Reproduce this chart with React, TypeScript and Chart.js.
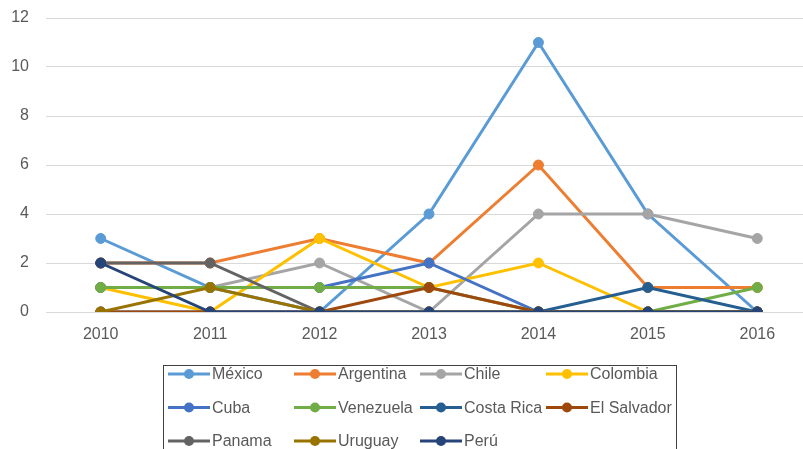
import React, { useEffect, useRef } from "react";
import { Chart, registerables } from "chart.js";

Chart.register(...registerables);

const years = ["2010", "2011", "2012", "2013", "2014", "2015", "2016"];
const seriesNames = ["México", "Argentina", "Chile", "Colombia", "Cuba", "Venezuela", "Costa Rica", "El Salvador", "Panama", "Uruguay", "Perú"];
const seriesColors = ["#5B9BD5", "#ED7D31", "#A5A5A5", "#FFC000", "#4472C4", "#70AD47", "#255E91", "#9E480E", "#636363", "#997300", "#264478"];

const mexico = [3, 1, 0, 4, 11, 4, 0];
const argentina = [2, 2, 3, 2, 6, 1, 1];
const chile = [1, 1, 2, 0, 4, 4, 3];
const colombia = [1, 0, 3, 1, 2, 0, 0];
const cuba = [1, 1, 1, 2, 0, 0, 0];
const venezuela = [1, 1, 1, 1, 0, 0, 1];
const costaRica = [0, 0, 0, 0, 0, 1, 0];
const elSalvador = [0, 0, 0, 1, 0, 0, 0];
const panama = [2, 2, 0, 0, 0, 0, 0];
const uruguay = [0, 1, 0, 0, 0, 0, 0];
const peru = [2, 0, 0, 0, 0, 0, 0];

const seriesValues = [mexico, argentina, chile, colombia, cuba, venezuela, costaRica, elSalvador, panama, uruguay, peru];

const yTicksMin = 0;
const yTicksMax = 12;
const yTicksStep = 2;

const FONT = '"Liberation Sans", Arial, Helvetica, sans-serif';
const TEXT = "#595959";

const gridLegend = {
  id: "gridLegend",
  afterDraw(chart: any) {
    const ctx = chart.ctx;
    ctx.save();
    ctx.strokeStyle = "#404040";
    ctx.lineWidth = 1;
    ctx.strokeRect(163.5, 365.5, 513, 130);
    ctx.font = `16px ${FONT}`;
    ctx.textBaseline = "middle";
    ctx.textAlign = "left";
    seriesNames.forEach((name, i) => {
      const col = i % 4;
      const row = Math.floor(i / 4);
      const x0 = 168 + col * 126;
      const y = 374 + row * 33.5;
      ctx.strokeStyle = seriesColors[i];
      ctx.lineWidth = 3;
      ctx.beginPath();
      ctx.moveTo(x0, y);
      ctx.lineTo(x0 + 42, y);
      ctx.stroke();
      ctx.fillStyle = seriesColors[i];
      ctx.beginPath();
      ctx.arc(x0 + 21, y, 5, 0, Math.PI * 2);
      ctx.fill();
      ctx.fillStyle = TEXT;
      ctx.fillText(name, x0 + 44, y + 1);
    });
    ctx.restore();
  },
};

export default function App() {
  const ref = useRef<HTMLCanvasElement | null>(null);
  useEffect(() => {
    if (!ref.current) return;
    const chart = new Chart(ref.current, {
      type: "line",
      data: {
        labels: years,
        datasets: seriesNames.map((name, i) => ({
          label: name,
          data: seriesValues[i],
          borderColor: seriesColors[i],
          backgroundColor: seriesColors[i],
          pointBackgroundColor: seriesColors[i],
          pointBorderColor: seriesColors[i],
          pointBorderWidth: 1,
          pointRadius: 5,
          borderWidth: 3,
          tension: 0,
          fill: false,
          order: seriesNames.length - i,
        })),
      },
      options: {
        responsive: false,
        animation: false,
        devicePixelRatio: 1,
        layout: { padding: { top: 18, right: 8, left: 0, bottom: 0 } },
        plugins: { legend: { display: false }, tooltip: { enabled: false } },
        scales: {
          x: {
            offset: true,
            grid: { display: false, drawTicks: false },
            border: { display: false },
            ticks: { color: TEXT, font: { family: FONT, size: 16 }, padding: 13, maxRotation: 0 },
            afterFit: (s: any) => { s.height = 168; },
          },
          y: {
            min: yTicksMin,
            max: yTicksMax,
            grid: { color: "#D9D9D9", drawTicks: true, tickLength: 17, tickColor: "rgba(0,0,0,0)", lineWidth: 1 },
            border: { display: false },
            ticks: { stepSize: yTicksStep, color: TEXT, font: { family: FONT, size: 16 }, padding: 0 },
            afterFit: (s: any) => { s.width = 46; },
          },
        },
      },
      plugins: [gridLegend],
    });
    return () => chart.destroy();
  }, []);
  return (
    <div style={{ position: "fixed", left: 0, top: 0, width: 803, height: 449, overflow: "hidden", background: "#fff" }}>
      <canvas ref={ref} width={820} height={480} style={{ display: "block", width: 820, height: 480 }} />
    </div>
  );
}
